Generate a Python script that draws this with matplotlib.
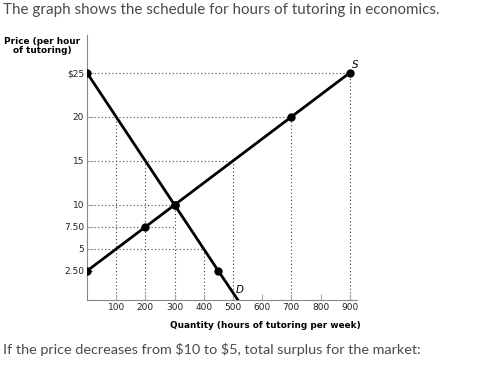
import matplotlib
matplotlib.use("Agg")
from matplotlib import pyplot as plt

# schedule points
supply_q = [0, 200, 300, 700, 900]
supply_p = [2.5, 7.5, 10, 20, 25]
demand_q = [0, 300, 450]
demand_p = [25, 10, 2.5]
demand_end = (517, -0.8)   # where demand line meets the axis

# dotted guide lines: (price, quantity reached)
h_guides = [(25, 900), (20, 700), (15, 500), (10, 300), (7.5, 300), (5, 400)]
v_guides = [(100, 20), (200, 15), (300, 10), (400, 5), (500, 15), (700, 20), (900, 25)]

x_ticks = [100, 200, 300, 400, 500, 600, 700, 800, 900]
y_ticks = [2.5, 5, 7.5, 10, 15, 20, 25]
y_labels = ["2.50", "5", "7.50", "10", "15", "20", "$25"]

text_col = "#4a4a4a"
ymin = -0.8

fig = plt.figure(figsize=(4.83, 3.67), dpi=100)
ax = fig.add_axes([87 / 483, 67 / 367, 270 / 483, 265 / 367])

for p, q in h_guides:
    ax.plot([0, q], [p, p], ls=(0, (1, 2.2)), color="#444444", lw=0.8, zorder=1)
for q, p in v_guides:
    ax.plot([q, q], [ymin, p], ls=(0, (1, 2.2)), color="#444444", lw=0.8, zorder=1)

ax.plot(supply_q, supply_p, color="black", lw=2, zorder=3)
ax.plot(demand_q + [demand_end[0]], demand_p + [demand_end[1]], color="black", lw=2, zorder=3)
ax.plot(supply_q, supply_p, "o", color="black", ms=5, zorder=4)
ax.plot(demand_q, demand_p, "o", color="black", ms=5, zorder=4)

ax.text(907, 25.9, "S", fontsize=7.5, style="italic", ha="left", va="center")
ax.text(510, 0.3, "D", fontsize=7.5, style="italic", ha="left", va="center")

ax.set_xlim(0, 925)
ax.set_ylim(ymin, 29.3)
ax.set_xticks(x_ticks)
ax.set_xticklabels([str(v) for v in x_ticks])
ax.set_yticks(y_ticks)
ax.set_yticklabels(y_labels)
ax.tick_params(direction="in", length=4, color="#aaaaaa", labelsize=6.5,
               labelcolor="#222222", pad=2)
ax.spines["top"].set_visible(False)
ax.spines["right"].set_visible(False)
ax.spines["left"].set_color("#888888")
ax.spines["bottom"].set_color("#888888")

fig.text(42 / 483, 1 - 46 / 367, "Price (per hour\nof tutoring)", fontsize=6.4,
         fontweight="bold", ha="center", va="center", linespacing=1.0)
fig.text(265 / 483, 1 - 326 / 367, "Quantity (hours of tutoring per week)", fontsize=6.4,
         fontweight="bold", ha="center", va="center")

fig.text(3 / 483, 1 - 10 / 367, "The graph shows the schedule for hours of tutoring in economics.",
         fontsize=10.9, family="Lato", color=text_col, ha="left", va="center", parse_math=False)
fig.text(3 / 483, 1 - 350 / 367, "If the price decreases from $10 to $5, total surplus for the market:",
         fontsize=10.4, family="Lato", color=text_col, ha="left", va="center", parse_math=False)

fig.savefig("out.png", dpi=100, facecolor="white")
